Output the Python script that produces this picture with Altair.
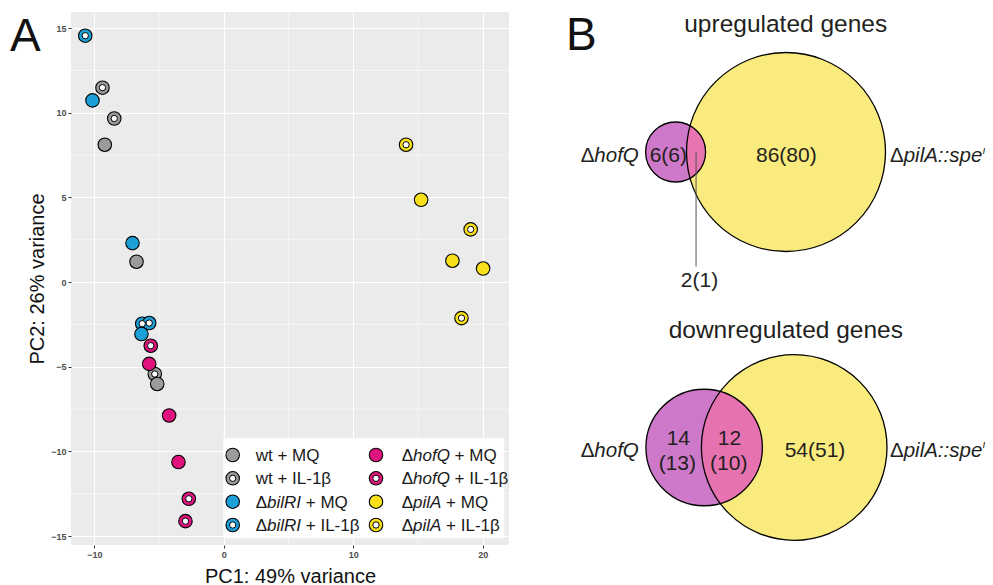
import math
import altair as alt
import pandas as pd

FONT = "Liberation Sans"

# ---------------- Panel A: PCA scores ----------------
strain = ["wt"] * 6 + ["bilRI"] * 6 + ["hofQ"] * 6 + ["pilA"] * 6
treatment = (["MQ"] * 3 + ["IL-1β"] * 3) * 4
pc1 = [-9.19, -6.74, -5.14, -9.37, -8.46, -5.33,
       -10.14, -7.05, -6.36, -10.70, -6.30, -5.76,
       -5.76, -4.22, -3.50, -5.64, -2.70, -2.96,
       15.24, 17.66, 20.03, 14.08, 19.07, 18.36]
pc2 = [8.11, 1.20, -6.02, 11.48, 9.66, -5.43,
       10.73, 2.30, -3.07, 14.55, -2.46, -2.42,
       -4.83, -7.88, -10.63, -3.76, -12.80, -14.12,
       4.86, 1.26, 0.80, 8.11, 3.11, -2.13]
x_ticks = [-10, 0, 10, 20]
y_ticks = [-15, -10, -5, 0, 5, 10, 15]
x_minor = [-5, 5, 15]
y_minor = [-12.5, -7.5, -2.5, 2.5, 7.5, 12.5]
legend_strain = ["wt", "wt", "bilRI", "bilRI", "hofQ", "hofQ", "pilA", "pilA"]
legend_treatment = ["MQ", "IL-1β"] * 4

# ---------------- Panel B: Venn counts ----------------
venn_title = ["upregulated genes", "downregulated genes"]
hofq_only = [6, 14]
hofq_only_paren = [6, 13]
shared = [2, 12]
shared_paren = [1, 10]
pila_only = [86, 54]
pila_only_paren = [80, 51]

# ---------------- styles / layout ----------------
COL = {"wt": "#9B9B9B", "bilRI": "#1BA0D7", "hofQ": "#E0137E", "pilA": "#F8E11A"}
V_YEL, V_MAG, V_PINK = "#FAEB7E", "#CD78C8", "#E874B0"
TXT = "#231F20"
PW, PH = 438, 533
DISC, HOLE = 182, 40

# Arial / Liberation Sans advance widths (per 1000 em)
W = {" ": 278, "+": 584, "-": 333, "1": 556, "A": 667, "I": 278, "L": 556, "M": 833,
     "Q": 778, "R": 722, "b": 556, "f": 278, "h": 556, "i": 222, "l": 222, "o": 556,
     "p": 556, "t": 278, "w": 722, "Δ": 667, "β": 576, ":": 278, "s": 500, "e": 556,
     "r": 333}


def tw(s, size):
    return sum(W.get(c, 556) for c in s) * size / 1000.0


# ---------------- Panel A layers ----------------
df = pd.DataFrame({"strain": strain, "treatment": treatment, "px": pc1, "py": pc2})
df["fillc"] = df["strain"].map(COL)
df_mq = df[df["treatment"] == "MQ"]
df_il = df[df["treatment"] != "MQ"]

xscale = alt.Scale(domain=[-11.8, 22.03], nice=False, zero=False)
yscale = alt.Scale(domain=[-15.53, 15.95], nice=False, zero=False)
common_axis = dict(grid=True, gridColor="white", gridWidth=1.1, domain=False,
                   ticks=True, tickSize=3, tickColor="#333333", tickWidth=1,
                   labelColor="#4D4D4D", labelFont=FONT, labelFontSize=9,
                   labelFontWeight="bold", labelPadding=2,
                   titleFont=FONT, titleFontSize=20, titleFontWeight="normal",
                   titleColor="#111111", titleBaseline="alphabetic")
xaxis = alt.Axis(values=x_ticks, title="PC1: 49% variance", titleY=37,
                 titleX=PW / 2, titleAlign="center", **common_axis)
yaxis = alt.Axis(values=y_ticks, title="PC2: 26% variance", titleX=-28,
                 titleY=PH / 2, titleAngle=-90, titleAlign="center", **common_axis)
X = alt.X("px:Q", scale=xscale, axis=xaxis)
Y = alt.Y("py:Q", scale=yscale, axis=yaxis)

minor_v = alt.Chart(pd.DataFrame({"px": x_minor})).mark_rule(
    color="white", strokeWidth=0.55).encode(x=X)
minor_h = alt.Chart(pd.DataFrame({"py": y_minor})).mark_rule(
    color="white", strokeWidth=0.55).encode(y=Y)

il_disc = alt.Chart(df_il).mark_point(
    shape="circle", filled=True, opacity=1, size=DISC, stroke="black", strokeWidth=1.1
).encode(x=X, y=Y, color=alt.Color("fillc:N", scale=None))
il_hole = alt.Chart(df_il).mark_point(
    shape="circle", filled=True, opacity=1, size=HOLE, fill="white", stroke="black",
    strokeWidth=1.0).encode(x=X, y=Y)
mq_disc = alt.Chart(df_mq).mark_point(
    shape="circle", filled=True, opacity=1, size=DISC, stroke="black", strokeWidth=1.1
).encode(x=X, y=Y, color=alt.Color("fillc:N", scale=None))

# ---------------- legend (manual, inside panel) ----------------
LEG_BOX = (152.3, 433.3, 426.3, 526.3)
LEG_SYM_X = [161.7, 305.0]
LEG_TXT_X = [184.7, 330.7]
LEG_ROW_Y = [443.0, 466.3, 489.7, 513.0]
LEG_FS = 17

sym_rows, txt_rows = [], []
for i, (s, t) in enumerate(zip(legend_strain, legend_treatment)):
    col, row = i // 4, i % 4
    yy = LEG_ROW_Y[row]
    sym_rows.append({"lx": LEG_SYM_X[col], "ly": yy, "fillc": COL[s], "ring": t != "MQ"})
    x0 = LEG_TXT_X[col]
    base = yy + 6
    if s == "wt":
        txt_rows.append({"lx": x0, "ly": base, "text": f"wt + {t}", "it": False})
    else:
        txt_rows.append({"lx": x0, "ly": base, "text": "Δ", "it": False})
        txt_rows.append({"lx": x0 + tw("Δ", LEG_FS), "ly": base, "text": s, "it": True})
        txt_rows.append({"lx": x0 + tw("Δ" + s + " ", LEG_FS), "ly": base,
                         "text": f"+ {t}", "it": False})
leg_sym = pd.DataFrame(sym_rows)
leg_txt = pd.DataFrame(txt_rows)

LX = alt.X("lx:Q", scale=None)
LY = alt.Y("ly:Q", scale=None)
leg_box = alt.Chart(pd.DataFrame({"a": [0]})).mark_rect(color="white").encode(
    x=alt.value(LEG_BOX[0]), x2=alt.value(LEG_BOX[1]),
    y=alt.value(LEG_BOX[2]), y2=alt.value(LEG_BOX[3]))
leg_disc = alt.Chart(leg_sym).mark_point(
    shape="circle", filled=True, opacity=1, size=DISC, stroke="black", strokeWidth=1.1
).encode(x=LX, y=LY, color=alt.Color("fillc:N", scale=None))
leg_hole = alt.Chart(leg_sym[leg_sym["ring"]]).mark_point(
    shape="circle", filled=True, opacity=1, size=HOLE, fill="white", stroke="black",
    strokeWidth=1.0).encode(x=LX, y=LY)
leg_txt_n = alt.Chart(leg_txt[~leg_txt["it"]]).mark_text(
    align="left", baseline="alphabetic", font=FONT, fontSize=LEG_FS, color="#1A1A1A"
).encode(x=LX, y=LY, text="text:N")
leg_txt_i = alt.Chart(leg_txt[leg_txt["it"]]).mark_text(
    align="left", baseline="alphabetic", font=FONT, fontSize=LEG_FS, fontStyle="italic",
    color="#1A1A1A").encode(x=LX, y=LY, text="text:N")


# ---------------- Panel B: area-proportional Venn diagrams ----------------
def lens_area(r1, r2, d):
    if d >= r1 + r2:
        return 0.0
    if d <= abs(r1 - r2):
        return math.pi * min(r1, r2) ** 2
    a1 = r1 * r1 * math.acos((d * d + r1 * r1 - r2 * r2) / (2 * d * r1))
    a2 = r2 * r2 * math.acos((d * d + r2 * r2 - r1 * r1) / (2 * d * r2))
    a3 = 0.5 * math.sqrt((-d + r1 + r2) * (d + r1 - r2) * (d - r1 + r2) * (d + r1 + r2))
    return a1 + a2 - a3


def solve_d(r1, r2, target):
    lo, hi = abs(r1 - r2), r1 + r2
    for _ in range(80):
        mid = 0.5 * (lo + hi)
        if lens_area(r1, r2, mid) > target:
            lo = mid
        else:
            hi = mid
    return 0.5 * (lo + hi)


VENN_R = [99.5, 92.8]                      # radius of the larger circle (px)
VENN_C = [(715.0, 140.0), (723.2, 435.5)]  # its centre (px, relative to plot)

circ_rows, lens_rows, lens_mid = [], [], []
for k in range(2):
    n_h = hofq_only[k] + shared[k]
    n_p = pila_only[k] + shared[k]
    R = VENN_R[k]
    r = R * math.sqrt(n_h / n_p)
    cbx, cy = VENN_C[k]
    d = solve_d(r, R, shared[k] / n_h * math.pi * r * r)
    csx = cbx - d
    # Vega's circle symbol: radius = sqrt(size) / 2
    circ_rows.append({"bx": cbx, "by": cy, "size": (2 * R) ** 2, "fillc": V_YEL, "o": 2 * k})
    circ_rows.append({"bx": csx, "by": cy, "size": (2 * r) ** 2, "fillc": V_MAG, "o": 2 * k + 1})
    x_lo, x_hi = cbx - R, csx + r
    lens_mid.append(0.5 * (x_lo + x_hi))
    step = 0.5
    xx = x_lo
    while xx <= x_hi:
        h = min(math.sqrt(max(0.0, r * r - (xx - csx) ** 2)),
                math.sqrt(max(0.0, R * R - (xx - cbx) ** 2)))
        lens_rows.append({"bx": xx, "by": cy - h, "by2": cy + h})
        xx += step
circ = pd.DataFrame(circ_rows)
lens = pd.DataFrame(lens_rows)

BX = alt.X("bx:Q", scale=None)
BY = alt.Y("by:Q", scale=None)

v_fill = alt.Chart(circ).mark_point(
    shape="circle", filled=True, opacity=1, strokeWidth=0
).encode(x=BX, y=BY, size=alt.Size("size:Q", scale=None),
         color=alt.Color("fillc:N", scale=None), order="o:Q")
v_lens = alt.Chart(lens).mark_rule(color=V_PINK, strokeWidth=1.0, opacity=1).encode(
    x=BX, y=BY, y2="by2:Q")
v_stroke = alt.Chart(circ).mark_point(
    shape="circle", filled=False, opacity=1, color="black", strokeWidth=1.3
).encode(x=BX, y=BY, size=alt.Size("size:Q", scale=None))

leader = alt.Chart(pd.DataFrame({"bx": [lens_mid[0]], "by": [VENN_C[0][1]], "by2": [254.7]})
                   ).mark_rule(color="#555555", strokeWidth=1).encode(x=BX, y=BY, y2="by2:Q")

num_rows = [
    (597.3, 150.3, f"{hofq_only[0]}({hofq_only_paren[0]})"),
    (715.3, 150.3, f"{pila_only[0]}({pila_only_paren[0]})"),
    (628.5, 274.7, f"{shared[0]}({shared_paren[0]})"),
    (607.3, 433.0, f"{hofq_only[1]}"),
    (606.3, 458.0, f"({hofq_only_paren[1]})"),
    (658.5, 433.0, f"{shared[1]}"),
    (657.7, 458.0, f"({shared_paren[1]})"),
    (744.0, 444.7, f"{pila_only[1]}({pila_only_paren[1]})"),
]
nums = pd.DataFrame(num_rows, columns=["bx", "by", "text"])
v_nums = alt.Chart(nums).mark_text(
    align="center", baseline="alphabetic", font=FONT, fontSize=21, color=TXT
).encode(x=BX, y=BY, text="text:N")

LAB_FS = 20.5
PIL_X = 819.0
lab_rows = []
for base in (150.3, 444.7):
    lab_rows.append({"bx": 509.7, "by": base, "text": "Δ", "it": False, "fs": LAB_FS})
    lab_rows.append({"bx": 509.7 + tw("Δ", LAB_FS), "by": base, "text": "hofQ", "it": True, "fs": LAB_FS})
    lab_rows.append({"bx": PIL_X, "by": base, "text": "Δ", "it": False, "fs": LAB_FS})
    lab_rows.append({"bx": PIL_X + tw("Δ", LAB_FS), "by": base, "text": "pilA::spe", "it": True, "fs": LAB_FS})
    lab_rows.append({"bx": PIL_X + tw("ΔpilA::spe", LAB_FS) + 0.5, "by": base - 8.5, "text": "r",
                     "it": True, "fs": 10.5})
labs = pd.DataFrame(lab_rows)
v_lab_n = alt.Chart(labs[~labs["it"]]).mark_text(
    align="left", baseline="alphabetic", font=FONT, color=TXT
).encode(x=BX, y=BY, text="text:N", size=alt.Size("fs:Q", scale=None))
v_lab_i = alt.Chart(labs[labs["it"]]).mark_text(
    align="left", baseline="alphabetic", font=FONT, fontStyle="italic", color=TXT
).encode(x=BX, y=BY, text="text:N", size=alt.Size("fs:Q", scale=None))

titles = pd.DataFrame({"bx": [714.7, 714.8], "by": [19.7, 326.3], "text": venn_title})
v_titles = alt.Chart(titles).mark_text(
    align="center", baseline="alphabetic", font=FONT, fontSize=24.5, color=TXT
).encode(x=BX, y=BY, text="text:N")

letters = pd.DataFrame({"bx": [-61.0, 495.0], "by": [38.7, 38.4], "text": ["A", "B"],
                        "fs": [46, 46]})
v_letters = alt.Chart(letters).mark_text(
    align="left", baseline="alphabetic", font=FONT, color="#111111"
).encode(x=BX, y=BY, text="text:N", size=alt.Size("fs:Q", scale=None))

chart = alt.layer(
    minor_v, minor_h, il_disc, il_hole, mq_disc,
    leg_box, leg_disc, leg_hole, leg_txt_n, leg_txt_i,
    v_fill, v_lens, v_stroke, leader, v_nums, v_lab_n, v_lab_i, v_titles, v_letters,
).properties(
    width=PW, height=PH,
    padding={"left": 63, "top": 4, "right": 476, "bottom": 40},
    autosize=alt.AutoSizeParams(type="none"),
    background="white",
).configure_view(fill="#EBEBEB", strokeWidth=0)

chart.save("out.html", embed_options={"renderer": "svg", "actions": False})
